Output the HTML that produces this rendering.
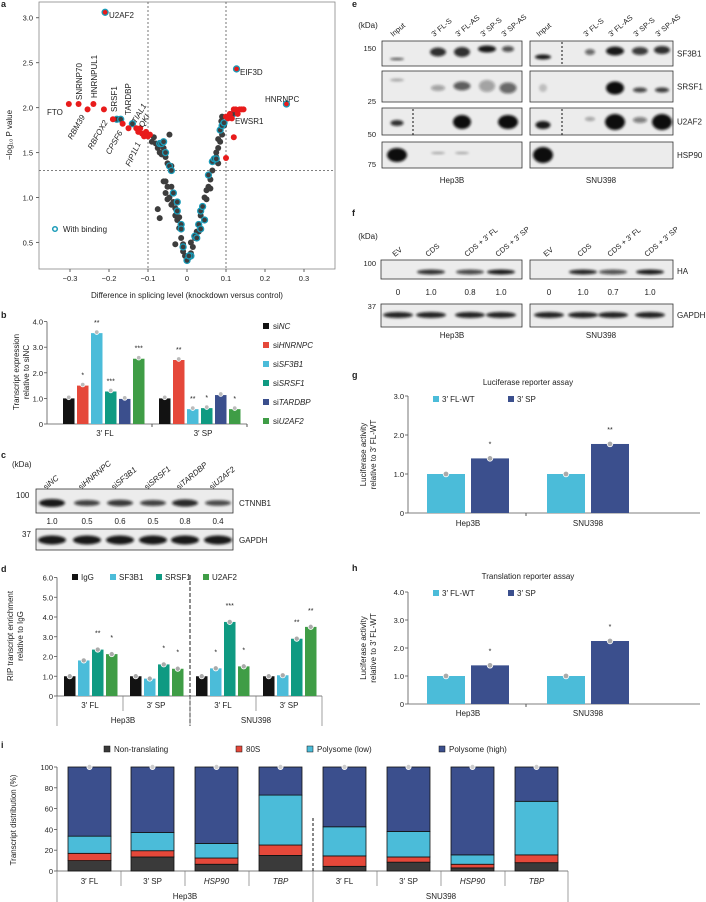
<!DOCTYPE html>
<html><head><meta charset="utf-8"><style>
html,body{margin:0;padding:0;background:#fff}
svg{display:block;font-family:"Liberation Sans",sans-serif}
text{fill:#222}
</style></head><body>
<svg id="fig" width="706" height="902" viewBox="0 0 706 902" xmlns="http://www.w3.org/2000/svg">
<defs><filter id="bl" x="-50%" y="-100%" width="200%" height="300%"><feGaussianBlur stdDeviation="1.3"/></filter></defs>
<g font-size="9" font-weight="bold">
<text x="1" y="7">a</text>
<text x="1" y="318">b</text>
<text x="1" y="458">c</text>
<text x="1" y="572">d</text>
<text x="1" y="748">i</text>
<text x="352" y="7">e</text>
<text x="352" y="216">f</text>
<text x="352" y="378">g</text>
<text x="352" y="571">h</text>
</g>
<g id="pa"></g>
<g id="pb"></g>
<g id="pc"></g>
<g id="pd"></g>
<g id="pe"></g>
<g id="pf"></g>
<g id="pg"></g>
<g id="ph"></g>
<g id="pi"></g>
</svg>
<script>
// ---------- data ----------
const volcX=[-0.303,-0.278,-0.255,-0.24,-0.213,-0.19,-0.165,-0.15,-0.13,-0.125,-0.12,-0.115,-0.11,-0.105,-0.1,-0.095,0.1,0.105,0.11,0.115,0.12,0.125,0.13,0.135,0.14,0.145,0.12,0.1,
-0.09,-0.085,-0.08,-0.075,-0.07,-0.065,-0.06,-0.055,-0.045,-0.05,-0.04,-0.075,-0.07,-0.06,-0.055,-0.05,-0.055,-0.05,-0.045,-0.04,-0.035,-0.03,-0.03,-0.025,-0.02,-0.03,-0.015,-0.01,-0.01,-0.005,0,0.005,0.01,0.015,0.02,0.025,0.03,0.035,0.04,0.045,0.05,0.055,0.06,0.065,0.07,0.075,0.08,0.085,0.09,0.095,0.085,0.08,0.075,0.08,0.06,0.05,0.03,0.01,-0.02,-0.04,0.09,0.088,
-0.18,-0.17,-0.14,0.118,-0.07,-0.065,-0.06,-0.055,-0.045,-0.04,-0.035,-0.025,-0.025,-0.015,-0.015,-0.01,0,0.01,0.02,0.025,0.03,0.035,0.04,0.045,0.035,0.055,0.065,0.07,0.075,0.085,0.09,0.095,0.005,
-0.21,0.127,0.255];
const volcY=[2.04,2.04,1.98,2.04,1.98,1.87,1.82,1.77,1.77,1.73,1.77,1.71,1.68,1.73,1.68,1.70,1.9,1.88,1.93,1.88,1.98,1.98,1.93,1.98,1.98,1.98,1.67,1.44,
1.62,1.67,1.6,1.55,1.5,1.48,1.55,1.45,1.7,1.38,1.35,0.87,0.77,1.18,1.18,1.12,1.05,0.98,1.0,0.92,0.95,0.88,0.8,0.75,0.66,0.48,0.55,0.48,0.4,0.35,0.3,0.33,0.38,0.45,0.55,0.62,0.7,0.8,0.9,1.0,1.08,1.12,1.2,1.3,1.4,1.45,1.55,1.62,1.7,1.8,1.75,1.65,1.5,1.38,1.1,0.98,0.62,0.5,0.78,1.12,1.9,1.85,
1.87,1.87,1.82,1.93,1.6,1.6,1.62,1.5,1.35,1.3,1.05,0.95,0.85,0.7,0.65,0.45,0.3,0.35,0.57,0.55,0.7,0.85,0.9,0.75,0.65,1.25,1.4,1.43,1.43,1.75,1.8,1.83,0.35,
3.06,2.43,2.04];
const volcType=[]; // 0 gray, 1 binding, 2 significant, 3 significant+binding
const nRed=28,nGray=62,nTeal=33;
const volcTypeCounts=[nRed,nGray,nTeal,3];
const bCats=["3′ FL","3′ SP"];
const bSeries=["siNC","siHNRNPC","siSF3B1","siSRSF1","siTARDBP","siU2AF2"];
const bFL=[1.0,1.5,3.55,1.27,0.98,2.55];
const bSP=[1.0,2.5,0.58,0.62,1.13,0.58];
const bStars=[["","*","**","***","","***"],["","**","**","*","","*"]];
const cNames=["siNC","siHNRNPC","siSF3B1","siSRSF1","siTARDBP","siU2AF2"];
const cVals=["1.0","0.5","0.6","0.5","0.8","0.4"];
const cBand=[1.0,0.5,0.6,0.5,0.8,0.4];
const dSeries=["IgG","SF3B1","SRSF1","U2AF2"];
const dHepFL=[1.0,1.8,2.35,2.12];
const dHepSP=[1.0,0.88,1.6,1.38];
const dSnuFL=[1.0,1.4,3.75,1.5];
const dSnuSP=[1.0,1.05,2.9,3.5];
const gFL=[1.0,1.0];
const gSP=[1.4,1.77];
const hFL=[1.0,1.0];
const hSP=[1.38,2.25];
const iCats=["3′ FL","3′ SP","HSP90","TBP","3′ FL","3′ SP","HSP90","TBP"];
const iNon=[10,13.5,6.5,15,4.5,8.5,3,8];
const i80S=[7,6,6,10,10,5,3.5,7.5];
const iLow=[16.5,17.5,14,48,28,24.5,9,51.5];
const iHigh=[66.5,63,73.5,27,57.5,62,84.5,33];

// ---------- helpers ----------
const NS="http://www.w3.org/2000/svg";
function mk(tag,attrs,parent){const e=document.createElementNS(NS,tag);for(const k in attrs)e.setAttribute(k,attrs[k]);parent.appendChild(e);return e;}
function txt(parent,x,y,s,size,anchor,extra){const t=mk('text',Object.assign({x:x,y:y,'font-size':size||8,'text-anchor':anchor||'start'},extra||{}),parent);t.textContent=s;return t;}
const C={black:"#121212",red:"#e5483a",lb:"#4bbcd9",teal:"#0f9a82",navy:"#3b4f8d",green:"#3f9d46",gray:"#444"};

// ---------- panel a ----------
(function(){
const g=document.getElementById('pa');
const X=v=>187+v*390, Y=v=>17.7+(3-v)*89.9;
let r=mk('rect',{x:39,y:2,width:296,height:267,fill:'none',stroke:'#888','stroke-width':0.8},g);


[-0.3,-0.2,-0.1,0,0.1,0.2,0.3].forEach(v=>{mk('line',{x1:X(v),x2:X(v),y1:269,y2:272,stroke:'#666'},g);let t=txt(g,X(v),281,(v<0?'−':'')+Math.abs(v).toString().replace(/^0\./,'0.'),7.5,'middle');

});
[0.5,1.0,1.5,2.0,2.5,3.0].forEach(v=>{mk('line',{x1:36,x2:39,y1:Y(v),y2:Y(v),stroke:'#666'},g);let t=txt(g,33,Y(v)+3,v.toFixed(1),7.5,'end');

});
mk('line',{x1:X(-0.1),x2:X(-0.1),y1:2,y2:269,stroke:'#555','stroke-dasharray':'2,2','stroke-width':0.8},g);
mk('line',{x1:X(0.1),x2:X(0.1),y1:2,y2:269,stroke:'#555','stroke-dasharray':'2,2','stroke-width':0.8},g);
mk('line',{x1:39,x2:335,y1:Y(1.3),y2:Y(1.3),stroke:'#555','stroke-dasharray':'2,2','stroke-width':0.8},g);
let idx=0;
for(let tIdx=0;tIdx<4;tIdx++){for(let k=0;k<volcTypeCounts[tIdx];k++){volcType[idx]=[2,0,1,3][tIdx];idx++;}}
const order=[];for(let i=0;i<volcX.length;i++)order.push(i);
order.sort((a,b)=>(volcType[a]==2||volcType[a]==3)-(volcType[b]==2||volcType[b]==3));
order.forEach(i=>{const ty=volcType[i];
 const fill=ty==0?'#404040':ty==1?'#777':C.red.replace('#e5483a','#e8141a');
 const p=mk('circle',{cx:X(volcX[i]),cy:Y(volcY[i]),r:3,fill:ty==2||ty==3?'#e81b1b':'#3d3d3d',stroke:ty==1||ty==3?'#1a9bb8':'none','stroke-width':1.3},g);
 
 });
const labs=[["U2AF2",109,18,0],["EIF3D",240,75,0],["HNRNPC",265,102,0],["EWSR1",235,124,0],["FTO",47,115,0],
["SNRNP70",82,100,-90],["HNRNPUL1",97,98,-90],["SRSF1",117,112,-90],["TARDBP",131,115,-90],
["RBM39",72,140,-60],["RBFOX2",92,150,-60],["CPSF6",110,155,-60],["FIP1L1",130,167,-65],["TIAL1",136,124,-60],["QKI",143,128,-60]];
labs.forEach(l=>{const t=txt(g,l[1],l[2],l[0],8,'start',l[3]?{transform:`rotate(${l[3]} ${l[1]} ${l[2]})`,'font-style':['RBM39','RBFOX2','CPSF6','FIP1L1','TIAL1','QKI'].includes(l[0])?'italic':'normal'}:{});
 
 });
let lc=mk('circle',{cx:55,cy:229,r:2.3,fill:'#fff',stroke:'#1a9bb8','stroke-width':1.5},g);


let lt=txt(g,63,232,'With binding',8);


let xt=txt(g,187,298,'Difference in splicing level (knockdown versus control)',8,'middle');


let yt=txt(g,12,135,'−log₁₀ P value',8,'middle',{transform:'rotate(-90 12 135)'});


})();

// ---------- bar helper ----------
function barChart(g,opts){
 const Y=v=>opts.y0-v*opts.k;
 mk('line',{x1:opts.ax,x2:opts.ax,y1:Y(opts.max),y2:opts.y0,stroke:'#555','stroke-width':0.8},g);
 mk('line',{x1:opts.ax,x2:opts.axEnd,y1:opts.y0,y2:opts.y0,stroke:'#555','stroke-width':0.8},g);
 opts.ticks.forEach(v=>{mk('line',{x1:opts.ax-3,x2:opts.ax,y1:Y(v),y2:Y(v),stroke:'#555','stroke-width':0.8},g);
  const t=txt(g,opts.ax-4,Y(v)+3,v===0?'0':v.toFixed(1),opts.fs||7.5,'end');
  
  });
 return Y;
}

// ---------- panel b ----------
(function(){
const g=document.getElementById('pb');
const Y=barChart(g,{y0:424,k:25.6,ax:47,axEnd:247,max:4,ticks:[0,1,2,3,4]});
const cols=[C.black,C.red,C.lb,C.teal,C.navy,C.green];
[bFL,bSP].forEach((arr,gi)=>{arr.forEach((v,i)=>{const x=(gi?159:63)+i*14;
 const b=mk('rect',{x:x,y:Y(v),width:11.5,height:424-Y(v),fill:cols[i]},g);
 
 
 const d=mk('circle',{cx:x+5.75,cy:Y(v)-1,r:2.3,fill:'#bbb',stroke:'#fff','stroke-width':0.8},g);
 
 
 if(bStars[gi][i]){const s=txt(g,x+5.75,Y(v)-8,bStars[gi][i],7,'middle');
 
 }
 });
 const c=txt(g,gi?203:105,436,bCats[gi],8,'middle');
 
 
 mk('line',{x1:gi?247:152,x2:gi?247:152,y1:424,y2:427,stroke:'#555'},g);});
bSeries.forEach((s,i)=>{const yy=327+i*19;
 const r=mk('rect',{x:263,y:yy-4,width:6,height:6,fill:cols[i]},g);
 
 
 const t=mk('text',{x:273,y:yy+2,'font-size':8},g);
 
 
 t.innerHTML='si<tspan font-style="italic">'+s.slice(2)+'</tspan>';});
const yt=txt(g,19,372,'Transcript expression',8,'middle',{transform:'rotate(-90 19 372)'});


const yt2=txt(g,29,372,'relative to siNC',8,'middle',{transform:'rotate(-90 29 372)'});


})();

// ---------- blot helper ----------
function box(g,x,y,w,h,name){const r=mk('rect',{x:x,y:y,width:w,height:h,fill:'#ececec',stroke:'#333','stroke-width':0.8},g);
 
 return r;}
function band(g,cx,cy,w,h,dark){const e=mk('ellipse',{cx:cx,cy:cy,rx:w/2,ry:h/2,fill:'#111','fill-opacity':dark,filter:'url(#bl)'},g);
 
 }

// ---------- panel c ----------
(function(){
const g=document.getElementById('pc');
txt(g,12,467,'(kDa)',8);
const lanes=[52,87,120,153,185,218];
cNames.forEach((n,i)=>{const t=mk('text',{x:lanes[i]-6,y:490,'font-size':8,transform:`rotate(-40 ${lanes[i]-6} 490)`},g);
 
 
 t.innerHTML='si<tspan font-style="italic">'+n.slice(2)+'</tspan>';});
box(g,36,489,197,24,'ctnnb1-blot-box');
box(g,36,529,197,21,'gapdh-blot-box');
lanes.forEach((x,i)=>{band(g,x,503,26,4+cBand[i]*4,0.6+cBand[i]*0.35);band(g,x,540,28,9,0.95);
 const t=txt(g,x,524,cVals[i],8,'middle');
 
 });
txt(g,16,498,'100',8);
txt(g,22,537,'37',8);
txt(g,239,506,'CTNNB1',8);
txt(g,239,543,'GAPDH',8);
})();

// ---------- panel d ----------
(function(){
const g=document.getElementById('pd');
const Y=barChart(g,{y0:696,k:19.75,ax:57,axEnd:322,max:6,ticks:[0,1,2,3,4,5,6]});
const cols=[C.black,C.lb,C.teal,C.green];
const starts=[64,130,196,263];
const groups=[dHepFL,dHepSP,dSnuFL,dSnuSP];
const stars=[["","","**","*"],["","","*","*"],["","*","***","*"],["","","**","**"]];
groups.forEach((arr,gi)=>arr.forEach((v,i)=>{const x=starts[gi]+i*14;
 const b=mk('rect',{x:x,y:Y(v),width:11.5,height:696-Y(v),fill:cols[i]},g);
 
 
 const d=mk('circle',{cx:x+5.75,cy:Y(v),r:2.6,fill:'#aaa',stroke:'#fff','stroke-width':0.8},g);
 
 
 if(stars[gi][i]){const s=txt(g,x+5.75,Y(v)-14,stars[gi][i],7,'middle');
 
 }}));
mk('line',{x1:190,x2:190,y1:575,y2:726,stroke:'#444','stroke-dasharray':'4,2','stroke-width':1.2},g);
[57,123,190,256,322].forEach(x=>mk('line',{x1:x,x2:x,y1:696,y2:x%133==0?726:(x==123||x==256?711:726),stroke:'#777','stroke-width':0.7},g));
["3′ FL","3′ SP","3′ FL","3′ SP"].forEach((s,i)=>{const t=txt(g,[90,156,223,289][i],708,s,8,'middle');
 
 });
txt(g,123,723,'Hep3B',8,'middle');
txt(g,256,723,'SNU398',8,'middle');
dSeries.forEach((s,i)=>{const x=[72,110,156,203][i];
 const r=mk('rect',{x:x,y:574,width:6,height:6,fill:cols[i]},g);
 
 
 const t=txt(g,x+9,580,s,8);
 
 });
const yt=txt(g,13,636,'RIP transcript enrichment',8,'middle',{transform:'rotate(-90 13 636)'});


const yt2=txt(g,23,636,'relative to IgG',8,'middle',{transform:'rotate(-90 23 636)'});


})();

// ---------- panel e ----------
(function(){
const g=document.getElementById('pe');
txt(g,368,28,'(kDa)',8,'middle');
const hl=[397,438,462,487,508], sl=[543,590,615,640,662];
const names=["Input","3′ FL-S","3′ FL-AS","3′ SP-S","3′ SP-AS"];
[hl,sl].forEach(ls=>ls.forEach((x,i)=>{const t=txt(g,x-4,37,names[i],7.5,'start',{transform:`rotate(-40 ${x-4} 37)`});
 
 }));
const rows=[[41,25,'SF3B1'],[71,31,'SRSF1'],[108,27,'U2AF2'],[142,26,'HSP90']];
rows.forEach(r=>{box(g,382,r[0],140,r[1],'hep3b-blot-box');box(g,530,r[0],143,r[1],'snu398-blot-box');
 txt(g,677,r[0]+r[1]/2+3,r[2],8);});
[['150',51],['25',104],['50',137],['75',167]].forEach(k=>{txt(g,376,k[1],k[0],7.5,'end');});
mk('line',{x1:413,x2:413,y1:109,y2:135,stroke:'#111','stroke-dasharray':'2,2'},g);
mk('line',{x1:562,x2:562,y1:42,y2:66,stroke:'#111','stroke-dasharray':'2,2'},g);
mk('line',{x1:562,x2:562,y1:109,y2:135,stroke:'#111','stroke-dasharray':'2,2'},g);
const B=[
[hl[0],59,14,2,0.8],[hl[1],52,16,9,0.85],[hl[2],52,16,10,0.85],[hl[3],49,18,7,0.95],[hl[4],49,12,6,0.7],
[sl[0],57,16,5,0.95],[sl[1],52,10,6,0.6],[sl[2],51,18,9,0.95],[sl[3],51,16,8,0.8],[sl[4],50,16,8,0.85],
[hl[0],80,14,3,0.3],[hl[1],88,14,6,0.35],[hl[2],86,17,9,0.65],[hl[3],86,16,12,0.35],[hl[4],88,17,11,0.6],
[sl[0],88,8,8,0.2],[sl[2],88,18,13,1],[sl[3],90,14,5,0.75],[sl[4],90,14,5,0.8],
[hl[0],123,13,6,0.85],[hl[2],122,18,14,1],[hl[4],122,20,14,1],
[sl[0],125,15,8,0.95],[sl[1],119,10,4,0.35],[sl[2],122,20,16,1],[sl[3],120,14,6,0.5],[sl[4],122,20,16,1],
[hl[0],155,20,14,1],[hl[1],153,14,2,0.35],[hl[2],153,14,2,0.35],[sl[0],155,20,16,1]];
B.forEach(b=>band(g,b[0],b[1],b[2],b[3],b[4]));
txt(g,452,183,'Hep3B',8,'middle');
txt(g,601,183,'SNU398',8,'middle');
})();

// ---------- panel f ----------
(function(){
const g=document.getElementById('pf');
txt(g,368,239,'(kDa)',8,'middle');
const hl=[398,431,470,501], sl=[549,583,613,650];
const names=["EV","CDS","CDS + 3′ FL","CDS + 3′ SP"];
const vh=["0","1.0","0.8","1.0"], vs=["0","1.0","0.7","1.0"];
[hl,sl].forEach((ls,k)=>ls.forEach((x,i)=>{const t=txt(g,x-3,257,names[i],7.5,'start',{transform:`rotate(-40 ${x-3} 257)`});
 
 
 const v=txt(g,x,295,(k?vs:vh)[i],8,'middle');
 
 }));
box(g,381,260,141,19,'ha-blot-hep3b');box(g,530,260,143,19,'ha-blot-snu398');
box(g,381,304,141,23,'gapdh-blot-hep3b');box(g,530,304,143,23,'gapdh-blot-snu398');
[[hl,[0,0.85,0.75,0.95]],[sl,[0,0.9,0.7,0.95]]].forEach(p=>p[0].forEach((x,i)=>{if(p[1][i])band(g,x,272,28,5,p[1][i]);band(g,x,315,30,6,0.9);}));
txt(g,376,266,'100',7.5,'end');
txt(g,376,309,'37',7.5,'end');
txt(g,677,274,'HA',8);
txt(g,677,318,'GAPDH',8);
txt(g,452,338,'Hep3B',8,'middle');
txt(g,601,338,'SNU398',8,'middle');
})();

// ---------- panels g & h ----------
function reporter(id,title,ty,y0,k,max,ticks,fl,sp,stars,catY){
const g=document.getElementById(id);
const Y=barChart(g,{y0:y0,k:k,ax:408,axEnd:700,max:max,ticks:ticks});
const t=txt(g,528,ty,title,8,'middle');


const ly=ty+17;
[[433,C.lb,'3′ FL-WT'],[508,C.navy,'3′ SP']].forEach(l=>{const r=mk('rect',{x:l[0],y:ly-6,width:6,height:6,fill:l[1]},g);
 
 
 const tt=txt(g,l[0]+9,ly,l[2],8);
 
 });
const cx=[427,547];
fl.forEach((v,i)=>{const b=mk('rect',{x:cx[i],y:Y(v),width:38,height:y0-Y(v),fill:C.lb},g);
 
 
 const d=mk('circle',{cx:cx[i]+19,cy:Y(v),r:2.8,fill:'#aaa',stroke:'#fff','stroke-width':0.8},g);
 
 });
sp.forEach((v,i)=>{const b=mk('rect',{x:cx[i]+44,y:Y(v),width:38,height:y0-Y(v),fill:C.navy},g);
 
 
 const d=mk('circle',{cx:cx[i]+63,cy:Y(v),r:2.8,fill:'#aaa',stroke:'#fff','stroke-width':0.8},g);
 
 
 if(stars[i]){const s=txt(g,cx[i]+63,Y(v)-12,stars[i],7,'middle');
 
 }});
mk('line',{x1:526,x2:526,y1:y0,y2:y0+3,stroke:'#555'},g);
['Hep3B','SNU398'].forEach((s,i)=>{const c=txt(g,cx[i]+41,catY,s,8,'middle');
 
 });
const ym=y0-max*k/2;
const a=txt(g,366,ym,'Luciferase activity',8,'middle',{transform:`rotate(-90 366 ${ym})`});


const b2=txt(g,376,ym,'relative to 3′ FL-WT',8,'middle',{transform:`rotate(-90 376 ${ym})`});


}
reporter('pg','Luciferase reporter assay',385,513,39,3,[0,1,2,3],gFL,gSP,['*','**'],526);
reporter('ph','Translation reporter assay',579,704,28,4,[0,1,2,3,4],hFL,hSP,['*','*'],716);

// ---------- panel i ----------
(function(){
const g=document.getElementById('pi');
const y0=871,k=1.04,Y=v=>y0-v*k;
barChart(g,{y0:y0,k:k,ax:57,axEnd:568,max:100,ticks:[0,20,40,60,80,100]}).toString();
g.querySelectorAll('text').forEach(t=>{t.textContent=t.textContent.replace('.0','');});
const xs=[68,131,195,259,323,387,451,515];
const cols=['#3a3a3a',C.red,C.lb,C.navy];
const names=['non-translating','80s','polysome-low','polysome-high'];
iCats.forEach((c,i)=>{let base=0;[iNon,i80S,iLow,iHigh].forEach((arr,s)=>{const v=arr[i];
 const r=mk('rect',{x:xs[i],y:Y(base+v),width:43,height:v*k,fill:cols[s],stroke:'#111','stroke-width':0.8},g);
 
 
 base+=v;});
 const dot=mk('circle',{cx:xs[i]+21.5,cy:Y(100),r:2.6,fill:'#ccc',stroke:'#fff','stroke-width':0.8},g);
 
 
 const t=txt(g,xs[i]+21.5,884,c,8,'middle',{'font-style':(c=='HSP90'||c=='TBP')?'italic':'normal'});
 
 });
mk('line',{x1:313,x2:313,y1:818,y2:872,stroke:'#111','stroke-dasharray':'3,2'},g);
[57,121,185,249,313,377,441,505,568].forEach(x=>mk('line',{x1:x,x2:x,y1:871,y2:(x==57||x==313||x==568)?902:886,stroke:'#777','stroke-width':0.7},g));
txt(g,185,899,'Hep3B',8,'middle');
txt(g,441,899,'SNU398',8,'middle');
[[104,'Non-translating'],[236,'80S'],[307,'Polysome (low)'],[439,'Polysome (high)']].forEach((l,i)=>{
 const r=mk('rect',{x:l[0],y:746,width:6,height:6,fill:cols[i],stroke:'#111','stroke-width':0.5},g);
 
 
 const t=txt(g,l[0]+10,752,l[1],8);
 
 });
const yt=txt(g,16,820,'Transcript distribution (%)',8,'middle',{transform:'rotate(-90 16 820)'});


})();
</script>
</body></html>
